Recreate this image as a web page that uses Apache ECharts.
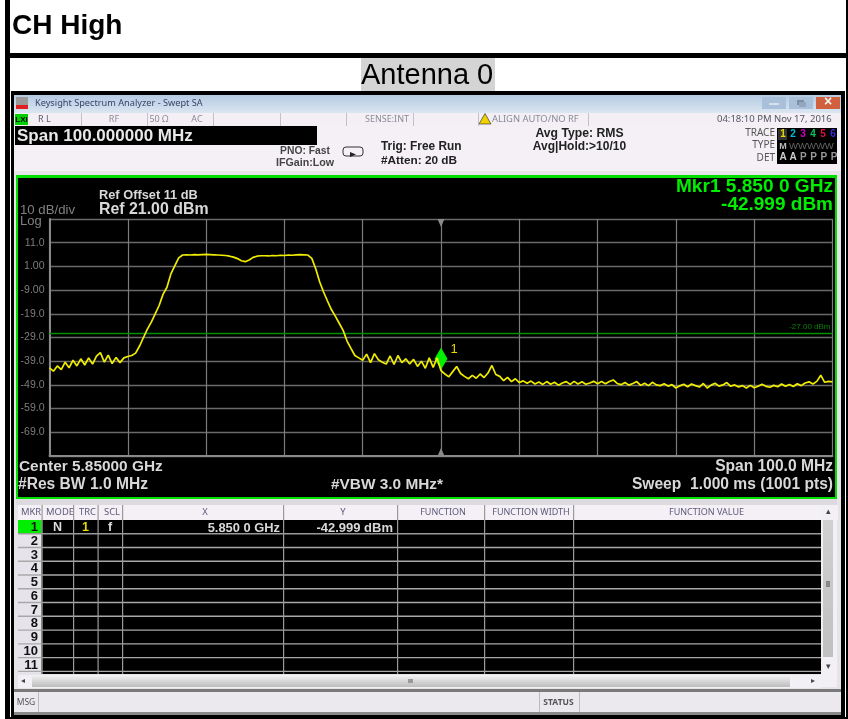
<!DOCTYPE html>
<html>
<head>
<meta charset="utf-8">
<style>html,body{margin:0;padding:0;background:#fff}#c{width:848px;height:719px;filter:blur(0.35px)}</style>
<script src="https://cdn.jsdelivr.net/npm/echarts@6/dist/echarts.min.js"></script>
</head>
<body>
<div id="c"></div>
<script>
// ---- data ----
const startMHz = 5800;
const stopMHz = 5900;
const stepMHz = 0.5;
const refLevel = 21;
const bottomLevel = -79;
const limitLine = -27;
const markerMHz = 5850;
const markerDbm = -42.999;
const gridTicks = [21, 11, 1, -9, -19, -29, -39, -49, -59, -69, -79];
const yTickValues = [11, 1, -9, -19, -29, -39, -49, -59, -69];
const yTickLabels = ['11.0', '1.00', '-9.00', '-19.0', '-29.0', '-39.0', '-49.0', '-59.0', '-69.0'];
const traceLeftNoise = [-41.8,-43.2,-41.0,-42.6,-39.4,-41.8,-38.6,-41.0,-38.0,-40.6,-37.6,-40.2,-36.9,-35.4,-39.4,-36.4,-40.0,-37.4,-39.6,-37.6,-37.0];
const traceRise = [-36.6,-35.6,-32.6,-29.0,-25.5,-22.5,-19.0,-15.5,-10.8,-7.8,-2.2,1.2,4.6];
const traceTopA = [5.8,5.9,5.8,6.0,5.9,6.0,6.1,6.0,5.9,5.8,5.7,5.6,5.3,4.9,4.3,3.4,3.0,3.7,4.8,5.3,5.5];
const traceTopB = [5.5,5.4,5.6,5.5,5.7,5.6,5.8,5.7,5.9,6.0,5.9,5.8];
const traceFall = [4.4,0.0,-5.5,-9.8,-13.6,-17.2,-20.0,-23.0,-26.0,-30.5,-33.6,-36.6,-37.6,-38.6];
const traceMidNoise = [-36.0,-39.6,-35.8,-38.4,-39.4,-40.2,-36.8,-40.4,-36.6,-39.6,-38.0,-40.2,-38.2,-41.2,-39.0,-42.0,-37.6,-41.6,-37.6,-43.0];
const traceDecay = [-44.4,-45.6,-43.4,-41.2,-44.2,-45.4,-46.4,-45.0,-46.2,-44.4,-45.9,-44.0,-40.8,-44.6,-45.4,-47.2,-45.8,-47.6,-46.4,-48.0];
const traceFloorA = [-47.3,-48.3,-47.4,-48.6,-47.8,-48.8,-47.6,-48.7,-47.9,-49.1,-48.2,-47.6,-48.8,-47.5,-48.6,-47.7,-48.7,-48.2,-47.5,-48.5];
const traceFloorB = [-47.6,-48.5,-47.6,-46.9,-48.4,-48.9,-48.0,-49.1,-48.4,-47.6,-49.2,-48.3,-49.3,-47.9,-49.0,-49.3,-48.5,-49.5,-48.9,-50.3];
const traceFloorC = [-49.4,-48.7,-49.8,-48.6,-49.3,-49.9,-48.4,-50.3,-49.1,-48.3,-49.5,-49.0,-48.0,-49.6,-49.0,-49.9,-49.3,-50.3,-49.2,-50.2];
const traceFloorD = [-49.6,-48.7,-49.6,-50.0,-49.2,-49.8,-48.6,-49.6,-48.8,-49.7,-48.5,-49.3,-48.2,-47.7,-48.6,-47.5,-44.9,-47.9,-47.5,-47.7];
const tableHeaders = ['MKR','MODE','TRC','SCL','X','Y','FUNCTION','FUNCTION WIDTH','FUNCTION VALUE'];
const tableRowNumbers = ['1','2','3','4','5','6','7','8','9','10','11'];
const markerRow = ['N','1','f','5.850 0 GHz','-42.999 dBm'];
const statusCells = ['R L','RF','50 Ω','AC','SENSE:INT','ALIGN AUTO/NO RF','04:18:10 PM Nov 17, 2016'];
const traceDigits = ['1','2','3','4','5','6'];
const traceDigitColors = ['#e8d800','#00b8d8','#d000c8','#10c060','#e01040','#3a30d8'];
const traceDetectors = ['A','A','P','P','P','P'];

const trace = [].concat(traceLeftNoise, traceRise, traceTopA, traceTopB, traceFall, traceMidNoise, traceDecay, traceFloorA, traceFloorB, traceFloorC, traceFloorD)
  .map((v, i) => [startMHz + i * stepMHz, v]);

// ---- chrome helpers ----
const SANS = '"Liberation Sans", Arial, sans-serif';
const UI = '"Noto Sans", "Open Sans", sans-serif';
const els = [];
function rect(x, y, w, h, fill, z) {
  els.push({type: 'rect', z: z === undefined ? -5 : z, silent: true, shape: {x, y, width: w, height: h}, style: {fill}});
}
function text(s, x, y, o) {
  o = o || {};
  els.push({type: 'text', z: 60, silent: true, x, y, style: {
    text: s, fill: o.fill || '#222', textAlign: o.align || 'left', textVerticalAlign: 'middle',
    font: (o.bold ? 'bold ' : '') + (o.size || 10) + 'px ' + (o.family || SANS)
  }});
}
function grad(c1, c2) {
  return {type: 'linear', x: 0, y: 0, x2: 0, y2: 1, colorStops: [{offset: 0, color: c1}, {offset: 1, color: c2}]};
}

// page frame
rect(5, 0, 5, 719, '#000');
rect(5, 53, 843, 5, '#000');
rect(846, 0, 2, 719, '#000');
rect(10, 717, 838, 2, '#000');
text('CH High', 12, 26, {bold: true, size: 28, fill: '#000'});
rect(361, 58, 134, 33, '#d4d4d4');
text('Antenna 0', 361, 76, {size: 29, fill: '#000'});

// screenshot window
rect(11, 91, 834, 626, '#000');
rect(14, 95, 827, 620, '#e6e4e8');
rect(14, 95, 827, 18, grad('#b4cae2', '#dbe6f1'));
rect(16, 97, 12, 8, '#9a9a9a');
rect(16, 105, 12, 4, '#e02020');
text('Keysight Spectrum Analyzer - Swept SA', 35, 103.5, {size: 9.2, fill: '#3a4468', family: UI});
[['#a9c0da', 762, 24], ['#a9c0da', 789, 24], ['#d0603e', 816, 24]].forEach(b => rect(b[1], 97, b[2], 12, b[0], -4));
rect(769, 103, 10, 2, '#d8e0ea', -3);
rect(797, 100, 7, 5, '#7e8ea4', -3);
rect(799, 102, 7, 5, '#93a6bd', -3);
text('×', 828, 102.5, {size: 14, bold: true, fill: '#f4f4f4', align: 'center'});

// status row
rect(14, 113, 827, 13, '#f3eff4');
rect(15, 114, 13, 11, '#00d000');
text('LXI', 21.5, 119.5, {size: 8, bold: true, fill: '#000', align: 'center'});
[81, 147, 213, 280, 346, 413, 478, 588].forEach(x => rect(x, 113, 1, 13, '#c4c0c8'));
text(statusCells[0], 38, 119.5, {size: 9, fill: '#5a5a70', family: UI});
text(statusCells[1], 114, 119.5, {size: 9, fill: '#8a8a98', align: 'center', family: UI});
text(statusCells[2], 159, 119.5, {size: 9, fill: '#8a8a98', align: 'center', family: UI});
text(statusCells[3], 197, 119.5, {size: 9, fill: '#8a8a98', align: 'center', family: UI});
text(statusCells[4], 387, 119.5, {size: 9, fill: '#8a8a98', align: 'center', family: UI});
els.push({type: 'polygon', z: 60, silent: true, shape: {points: [[485, 113.5], [491, 124], [479, 124]]}, style: {fill: '#f0d000', stroke: '#222', lineWidth: 0.6}});
text(statusCells[5], 492, 119.5, {size: 9.4, fill: '#8a8a98', family: UI});
text(statusCells[6], 717, 119.5, {size: 9.5, fill: '#555566', family: UI});

// control panel
rect(14, 126, 827, 45, '#f4f0f6');
rect(15, 126, 302, 19, '#000');
text('Span 100.000000 MHz', 17, 136, {size: 17, bold: true, fill: '#e8e8e8'});
text('PNO: Fast', 305, 151.5, {size: 10.3, bold: true, fill: '#444', align: 'center'});
text('IFGain:Low', 305, 163.5, {size: 10.7, bold: true, fill: '#444', align: 'center'});
els.push({type: 'rect', z: 60, silent: true, shape: {x: 343, y: 147, width: 20, height: 9, r: 3}, style: {fill: 'none', stroke: '#333', lineWidth: 1}});
els.push({type: 'polygon', z: 60, silent: true, shape: {points: [[350, 152], [356, 154.5], [350, 157]]}, style: {fill: '#222'}});
text('Trig: Free Run', 381, 147, {size: 11.9, bold: true, fill: '#222'});
text('#Atten: 20 dB', 381, 161, {size: 11.8, bold: true, fill: '#222'});
text('Avg Type: RMS', 579.5, 133.5, {size: 12.2, bold: true, fill: '#222', align: 'center'});
text('Avg|Hold:>10/10', 579.5, 147, {size: 12, bold: true, fill: '#222', align: 'center'});
text('TRACE', 775, 133, {size: 10, fill: '#555', align: 'right', family: UI});
text('TYPE', 775, 145.5, {size: 10, fill: '#555', align: 'right', family: UI});
text('DET', 775, 158.5, {size: 10, fill: '#555', align: 'right', family: UI});
rect(777, 128, 60, 36, '#000');
rect(778, 129, 9, 11, '#333');
traceDigits.forEach((d, i) => text(d, 783 + i * 10, 134.5, {size: 10, bold: true, fill: traceDigitColors[i], align: 'center'}));
text('M', 783, 146.5, {size: 9, bold: true, fill: '#bbb', align: 'center'});
text('WWWWW', 789, 146.5, {size: 9.5, fill: '#666'});
traceDetectors.forEach((d, i) => text(d, 783 + i * 10.2, 157, {size: 10, bold: true, fill: i < 2 ? '#ccc' : '#999', align: 'center'}));

// plot panel
rect(16, 175, 821, 324, '#00e000');
rect(18, 178, 817, 319, '#000');
text('Ref Offset 11 dB', 99, 195, {size: 12.8, bold: true, fill: '#d8d8d8'});
text('Ref 21.00 dBm', 99, 210, {size: 15.9, bold: true, fill: '#d8d8d8'});
text('10 dB/div', 20, 210.5, {size: 13.2, fill: '#808080'});
text('Log', 20, 221, {size: 13, fill: '#808080'});
text('Mkr1 5.850 0 GHz', 833, 187, {size: 19.1, bold: true, fill: '#00ee00', align: 'right'});
text('-42.999 dBm', 833, 205, {size: 19, bold: true, fill: '#00ee00', align: 'right'});
text('Center 5.85000 GHz', 19, 467, {size: 15.4, bold: true, fill: '#d8d8d8'});
text('#Res BW 1.0 MHz', 18, 484.5, {size: 15.6, bold: true, fill: '#d8d8d8'});
text('#VBW 3.0 MHz*', 331, 484.5, {size: 15.4, bold: true, fill: '#d8d8d8'});
text('Span 100.0 MHz', 833, 467, {size: 15.6, bold: true, fill: '#d8d8d8', align: 'right'});
text('Sweep  1.000 ms (1001 pts)', 833, 485, {size: 15.6, bold: true, fill: '#d8d8d8', align: 'right'});

// marker table
const colEdges = [18, 41.5, 73, 97.5, 122, 283, 397, 484, 573, 821];
const headerCenters = [31, 60, 87.5, 112, 205, 343, 443, 531, 706.5];
const rowTop = 520, rowPitch = 13.77;
rect(16, 499, 821, 6, '#dcdadf');
rect(18, 505, 820, 15, '#f4f0f6');
rect(41, rowTop, 780, 154, '#000');
rect(18, rowTop, 23.5, 154, '#e6e4ea');
rect(18, rowTop, 23.5, 13.5, '#00ee00');
tableRowNumbers.forEach((n, i) => {
  const yy = rowTop + i * rowPitch;
  text(n, 38, yy + 7.4, {size: 13, bold: true, fill: '#111', align: 'right'});
  rect(18, yy + 13, 803, 1.4, i === 0 ? '#9a9a9a' : '#a8a8a8', -4);
});
colEdges.slice(1, -1).forEach(x => rect(x, 505, 1.2, 169, '#9a9a9a', -4));
tableHeaders.forEach((h, i) => {
  text(h, headerCenters[i], 512.5, {size: h.length > 5 ? 9 : 9.4, fill: '#5c5a78', align: 'center', family: UI});
});
text(markerRow[0], 57.5, 528, {size: 12.5, bold: true, fill: '#ddd', align: 'center'});
text(markerRow[1], 85.5, 528, {size: 12.5, bold: true, fill: '#e8d800', align: 'center'});
text(markerRow[2], 110, 528, {size: 12.5, bold: true, fill: '#ddd', align: 'center'});
text(markerRow[3], 280, 528, {size: 12.9, bold: true, fill: '#d8d8d8', align: 'right'});
text(markerRow[4], 393, 528, {size: 13, bold: true, fill: '#d8d8d8', align: 'right'});

// scrollbars
rect(821, 505, 16, 182, '#f2f0f4');
rect(823, 520, 10, 137, grad('#d0d0d0', '#c0c0c0'));
rect(826, 581, 4, 6, '#888');
text('▴', 828, 512, {size: 9, fill: '#444', align: 'center'});
text('▾', 828, 667, {size: 9, fill: '#444', align: 'center'});
rect(18, 675, 803, 13, '#f2f0f4');
rect(32, 676, 758, 11, grad('#efefef', '#bcbcbc'));
text('◂', 23, 681, {size: 8, fill: '#444', align: 'center'});
text('▸', 813, 681, {size: 8, fill: '#444', align: 'center'});
rect(408, 679, 5, 4, '#999');

// bottom bar
rect(14, 689, 827, 3, '#7a7a7a');
rect(14, 692, 827, 20, '#ebe9ee');
rect(14, 712, 827, 3, '#8a8a8a');
rect(38, 692, 1, 20, '#bbb');
rect(539, 692, 1, 20, '#bbb');
rect(579, 692, 1, 20, '#bbb');
text('MSG', 26, 703, {size: 8.5, fill: '#555', align: 'center', family: UI});
text('STATUS', 558.5, 703, {size: 8.5, bold: true, fill: '#555', align: 'center', family: UI});

const chart = echarts.init(document.getElementById('c'), null, {renderer: 'canvas'});
chart.setOption({
  animation: false,
  backgroundColor: '#fff',
  graphic: {elements: els},
  grid: {left: 49.5, right: 15.5, top: 219, bottom: 263, show: false},
  xAxis: {
    type: 'value', min: startMHz, max: stopMHz, interval: 10,
    axisLine: {show: true, onZero: false, lineStyle: {color: '#8a8a8a', width: 2}},
    axisTick: {show: false}, axisLabel: {show: false},
    splitLine: {show: true, lineStyle: {color: '#7c7c7c', width: 1.2}}
  },
  yAxis: {
    type: 'value', min: bottomLevel, max: refLevel,
    axisLine: {show: true, onZero: false, lineStyle: {color: '#8a8a8a', width: 2}},
    axisTick: {show: false, customValues: gridTicks},
    axisLabel: {
      show: true, customValues: yTickValues, color: '#7d7d7d', fontSize: 10.5,
      fontFamily: SANS, margin: 5,
      formatter: v => yTickLabels[yTickValues.indexOf(v)] || ''
    },
    splitLine: {show: true, lineStyle: {color: '#6a6a6a', width: 1.4}}
  },
  series: [{
    type: 'line', data: trace, showSymbol: false, smooth: false, z: 5,
    lineStyle: {color: '#f0ec00', width: 1.7},
    markLine: {
      silent: true, symbol: 'none', animation: false,
      lineStyle: {color: '#009000', type: 'solid', width: 1.4},
      label: {show: true, position: 'insideEndTop', formatter: '-27.00 dBm', color: '#0a800a', fontSize: 8, fontFamily: SANS, distance: 2},
      data: [{yAxis: limitLine}]
    },
    markPoint: {
      silent: true, animation: false,
      data: [
        {coord: [markerMHz, markerDbm], symbol: 'diamond', symbolSize: [13, 22], symbolOffset: [0, -12],
         itemStyle: {color: '#00f000'},
         label: {show: true, formatter: '1', color: '#e8d800', fontSize: 13, fontFamily: SANS, position: 'right', distance: 3, offset: [0, -9]}},
        {coord: [markerMHz, refLevel], symbol: 'triangle', symbolRotate: 180, symbolSize: [7, 8], symbolOffset: [0, 4], itemStyle: {color: '#8a8a8a'}, label: {show: false}},
        {coord: [markerMHz, bottomLevel], symbol: 'triangle', symbolSize: [7, 8], symbolOffset: [0, -4], itemStyle: {color: '#8a8a8a'}, label: {show: false}}
      ]
    }
  }]
});
</script>
</body>
</html>
